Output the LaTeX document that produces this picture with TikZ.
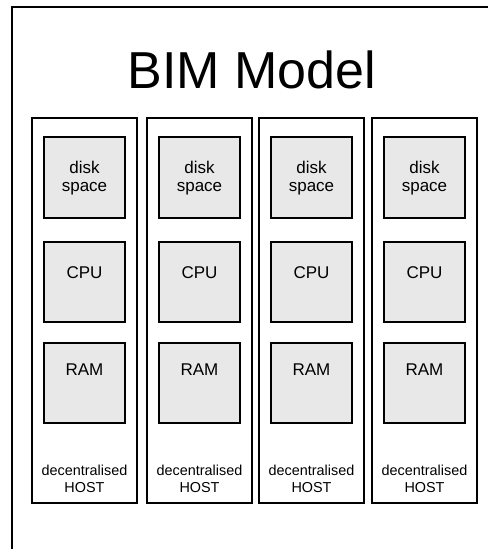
\documentclass[tikz,border=0pt]{standalone}
\usepackage{fontspec}
\setmainfont{Liberation Sans}
\definecolor{boxfill}{HTML}{E8E8E8}
\tikzset{
  hostbox/.style={draw=black, line width=1.8pt, fill=white, rectangle, inner sep=0pt,
    minimum width=105*0.75pt, minimum height=385*0.75pt},
  resbox/.style={draw=black, line width=2pt, fill=boxfill, rectangle, inner sep=0pt,
    minimum width=81*0.75pt, minimum height=80*0.75pt},
  reslabel/.style={anchor=base, inner sep=0pt, align=center, font=\fontsize{12.75pt}{13.5pt}\selectfont},
  hostlabel/.style={anchor=base, inner sep=0pt, align=center, font=\fontsize{10.8pt}{12.75pt}\selectfont},
  titlelabel/.style={anchor=base, inner sep=0pt, font=\fontsize{39pt}{44pt}\selectfont},
  frame/.style={draw=black, line width=1.5pt}
}
\begin{document}
\begin{tikzpicture}[x=0.75pt, y=-0.75pt]
\useasboundingbox (0,0) rectangle (488,549);
\clip (0,0) rectangle (488,549);
\fill[white] (0,0) rectangle (488,549);
\coordinate (ftr) at (495,7);
\coordinate (ftl) at (12,7);
\coordinate (fbl) at (12,556);
\draw[frame] (ftr) -- (ftl) -- (fbl);
\node[titlelabel] (title) at (252,89) {BIM Model};
\foreach \i/\cx in {1/84.5, 2/199.5, 3/311.5, 4/424.5} {
  \node[hostbox] (host\i) at (\cx,310.5) {};
  \node[resbox, minimum height=81*0.75pt] (disk\i) at (\cx,177.5) {};
  \node[resbox] (cpu\i) at (\cx,282) {};
  \node[resbox] (ram\i) at (\cx,383) {};
  \node[reslabel] (disklabel\i) at (\cx,191) {disk\\space};
  \node[reslabel] (cpulabel\i) at (\cx,278) {CPU};
  \node[reslabel] (ramlabel\i) at (\cx,375) {RAM};
  \node[hostlabel] (hostlabel\i) at (\cx,492) {decentralised\\HOST};
}
\end{tikzpicture}
\end{document}
